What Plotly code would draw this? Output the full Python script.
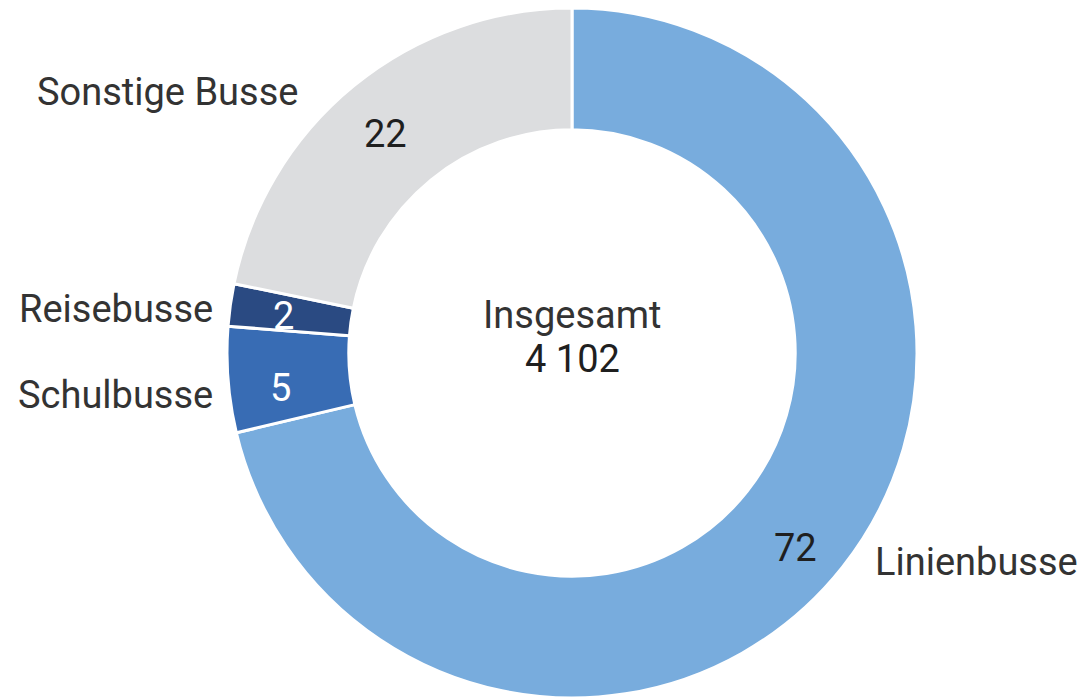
import plotly.graph_objects as go

categories = ["Linienbusse", "Schulbusse", "Reisebusse", "Sonstige Busse"]
values = [72, 5, 2, 22]
colors = ["#78ACDD", "#386CB4", "#2A4A82", "#DCDDDF"]
total_label = "Insgesamt"
total_value = "4 102"

# page has an 8px body margin; work in reference pixel coordinates and shift
OFF = 8
W, H = 1078, 692
cx, cy, R = 572 - OFF, 353 - OFF, 345

def clamp(v):
    return max(0.0, min(1.0, v))

fig = go.Figure(go.Pie(
    labels=categories, values=values, sort=False, direction="clockwise",
    rotation=0, hole=0.647, textinfo="none", hoverinfo="label+value",
    marker=dict(colors=colors, line=dict(color="white", width=3)),
    domain=dict(x=[clamp((cx - R) / W), clamp((cx + R) / W)],
                y=[clamp((H - cy - R) / H), clamp((H - cy + R) / H)]),
    showlegend=False,
))

FONT = "Roboto, Liberation Sans, Arial, sans-serif"
SIZE = 38

def ann(text, px, py, color="#2b2b2b", xanchor="center"):
    fig.add_annotation(text=text, x=(px - OFF) / W, y=1 - (py - OFF) / H,
                       xref="paper", yref="paper",
                       showarrow=False, xanchor=xanchor, yanchor="middle",
                       font=dict(family=FONT, size=SIZE, color=color))

# category labels (outside)
label_pos = {
    "Linienbusse": (873, 562, "left"),
    "Schulbusse": (215, 395, "right"),
    "Reisebusse": (215, 309, "right"),
    "Sonstige Busse": (167, 92, "center"),
}
# value labels (inside)
value_pos = {
    "Linienbusse": (795, 548, "#1f1f1f"),
    "Schulbusse": (281, 388, "white"),
    "Reisebusse": (283, 316, "white"),
    "Sonstige Busse": (385, 134, "#1f1f1f"),
}
for cat, v in zip(categories, values):
    lx, ly, la = label_pos[cat]
    ann(cat, lx, ly, color="#333333", xanchor=la)
    vx, vy, vc = value_pos[cat]
    ann(str(v), vx, vy, color=vc)

ann(total_label, 572, 315, color="#333333")
ann(total_value, 572, 359, color="#1f1f1f")

fig.update_layout(width=W, height=H, margin=dict(l=0, r=0, t=0, b=0),
                  paper_bgcolor="white", plot_bgcolor="white")
fig.write_html("out.html")
